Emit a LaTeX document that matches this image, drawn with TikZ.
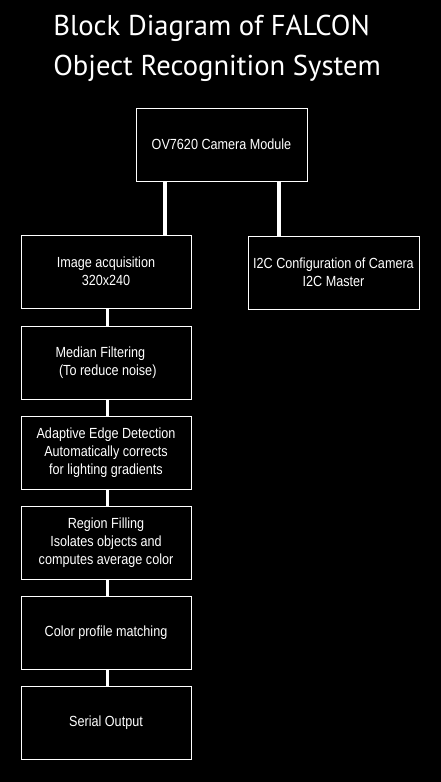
\documentclass[tikz,border=0pt]{standalone}
\usepackage{fontspec}
\setmainfont{Liberation Sans}[FakeStretch=0.86]
\newfontfamily\titlefont{PT Sans}
\begin{document}
\begin{tikzpicture}[x=0.75pt,y=-0.75pt,
  blk/.style={draw=white,line width=0.75pt,minimum width=170*0.75pt,minimum height=73*0.75pt,
    inner sep=0pt,text=white,align=center,font=\fontsize{11}{13.5}\selectfont},
  link/.style={draw=white,line width=2.4pt}]
\fill[black] (0,0) rectangle (441,782);
\useasboundingbox (0,0) rectangle (441,782);
\node[anchor=base west,text=white,align=left,inner sep=0pt,font=\titlefont\fontsize{21.5}{30}\selectfont] (title) at (53,75) {Block Diagram of FALCON\\Object Recognition System};
\node[blk,minimum width=171*0.75pt] (cam) at (221.5,144.5) {OV7620 Camera Module};
\node[blk] (img) at (106,271.5) {Image acquisition\\320x240};
\node[blk,minimum width=171*0.75pt] (i2c) at (333.5,272.5) {I2C Configuration of Camera\\I2C Master};
\node[blk,align=left] (med) at (106,362.5) {Median Filtering\\\ (To reduce noise)};
\node[blk] (adp) at (106,452.5) {Adaptive Edge Detection\\Automatically corrects\\for lighting gradients};
\node[blk] (reg) at (106,542.5) {Region Filling\\Isolates objects and\\computes average color};
\node[blk] (col) at (106,632.5) {Color profile matching};
\node[blk] (ser) at (106,722.5) {Serial Output};
\coordinate (cl) at (165,0);
\coordinate (cr) at (279,0);
\coordinate (cc) at (107.5,0);
\draw[link] (cam.south -| cl) -- (img.north -| cl);
\draw[link] (cam.south -| cr) -- (i2c.north -| cr);
\draw[link] (img.south -| cc) -- (med.north -| cc);
\draw[link] (med.south -| cc) -- (adp.north -| cc);
\draw[link] (adp.south -| cc) -- (reg.north -| cc);
\draw[link] (reg.south -| cc) -- (col.north -| cc);
\draw[link] (col.south -| cc) -- (ser.north -| cc);
\end{tikzpicture}
\end{document}
